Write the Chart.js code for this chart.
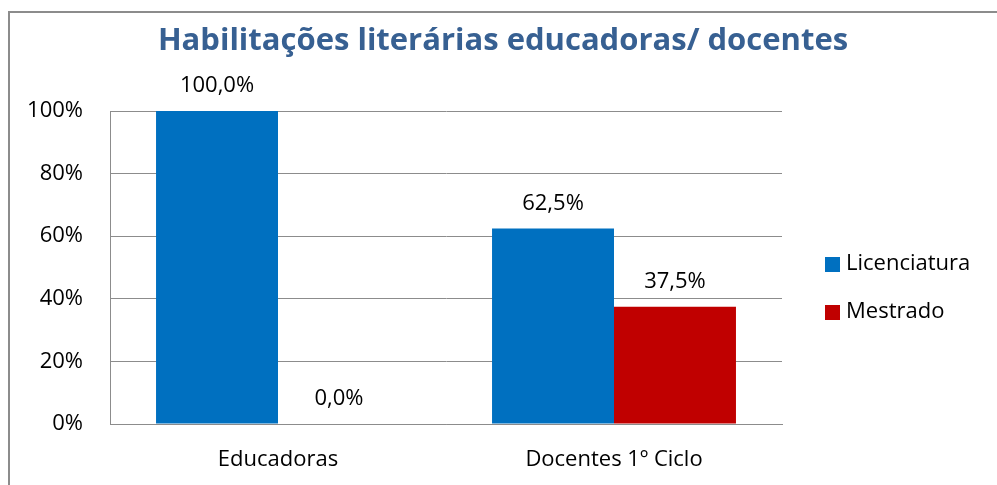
<!DOCTYPE html>
<html>
<head>
<meta charset="utf-8">
<script src="https://cdn.jsdelivr.net/npm/chart.js@4"></script>
<style>
  body { margin: 0; background: #fff; }
  #wrap { position: relative; width: 997px; height: 485px; }
  #frame { position: absolute; left: 8px; top: 11px; width: 1100px; height: 600px; border: 2px solid #8c8c8c; }
  canvas { position: absolute; left: 0; top: 0; }
</style>
</head>
<body>
<div id="wrap">
  <div id="frame"></div>
  <canvas id="chart" width="997" height="485"></canvas>
</div>
<script>
const categories = ["Educadoras", "Docentes 1º Ciclo"];
const seriesNames = ["Licenciatura", "Mestrado"];
const licenciatura = [100.0, 62.5];
const mestrado = [0.0, 37.5];
const seriesColors = ["#0070C0", "#C00000"];
const titleText = "Habilitações literárias educadoras/ docentes";

const FONT = "'Open Sans', 'Noto Sans', sans-serif";

// value labels above the bars, Portuguese decimal comma
const barLabels = {
    id: "barLabels",
    afterDatasetsDraw(chart) {
        const ctx = chart.ctx;
        ctx.save();
        ctx.font = "22px " + FONT;
        ctx.fillStyle = "#000";
        ctx.textAlign = "center";
        ctx.textBaseline = "middle";
        chart.data.datasets.forEach((ds, i) => {
            chart.getDatasetMeta(i).data.forEach((bar, j) => {
                const txt = ds.data[j].toFixed(1).replace(".", ",") + "%";
                ctx.fillText(txt, bar.x, bar.y - 25);
            });
        });
        ctx.restore();
    }
};

// title + legend drawn by hand (the built-in ones only centre over the plot part)
const decor = {
    id: "decor",
    afterDraw(chart) {
        const ctx = chart.ctx;
        ctx.save();
        ctx.font = "bold 31px " + FONT;
        ctx.fillStyle = "#376092";
        ctx.textAlign = "center";
        ctx.textBaseline = "middle";
        ctx.fillText(titleText, 503, 41);

        ctx.font = "22px " + FONT;
        ctx.textAlign = "left";
        chart.data.datasets.forEach((ds, i) => {
            const y = 264 + i * 48;
            ctx.fillStyle = ds.backgroundColor;
            ctx.fillRect(825, y - 7, 15, 15);
            ctx.fillStyle = "#000";
            ctx.fillText(ds.label, 846, y);
        });
        ctx.restore();
    }
};

new Chart(document.getElementById("chart"), {
    type: "bar",
    data: {
        labels: categories,
        datasets: [
            { label: seriesNames[0], data: licenciatura, backgroundColor: seriesColors[0] },
            { label: seriesNames[1], data: mestrado, backgroundColor: seriesColors[1] }
        ]
    },
    options: {
        responsive: false,
        animation: false,
        layout: { padding: { left: 0, right: 215, top: 111, bottom: 0 } },
        datasets: { bar: { categoryPercentage: 0.726, barPercentage: 1.0, borderWidth: 0 } },
        plugins: {
            legend: { display: false },
            tooltip: { enabled: false },
            title: { display: false }
        },
        scales: {
            x: {
                grid: { display: false, drawTicks: false },
                border: { color: "#8c8c8c", width: 1 },
                ticks: { color: "#000", font: { family: FONT, size: 22 }, padding: 23 },
                afterFit(scale) { scale.height = 61; }
            },
            y: {
                min: 0,
                max: 100,
                grid: { color: "#8c8c8c", drawTicks: false },
                border: { color: "#8c8c8c", width: 1 },
                ticks: {
                    stepSize: 20,
                    color: "#000",
                    font: { family: FONT, size: 22 },
                    padding: 27,
                    callback: v => v + "%"
                },
                afterFit(scale) { scale.width = 110; }
            }
        }
    },
    plugins: [barLabels, decor]
});
</script>
</body>
</html>
